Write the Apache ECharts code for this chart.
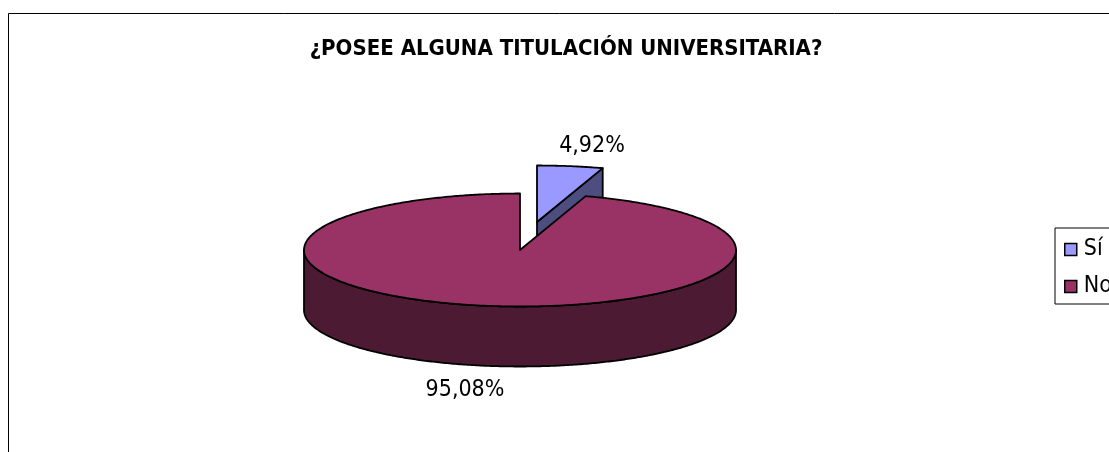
<!DOCTYPE html>
<html>
<head>
<meta charset="utf-8">
<script src="https://cdn.jsdelivr.net/npm/echarts@6/dist/echarts.min.js"></script>
<style>
html, body { margin: 0; padding: 0; background: #fff; }
#main { width: 1109px; height: 452px; }
</style>
</head>
<body>
<div id="main"></div>
<script>
const chartTitle = '¿POSEE ALGUNA TITULACIÓN UNIVERSITARIA?'
const categories = ['Sí', 'No']
const shares = [4.92, 95.08]
const topColors = ['#9999ff', '#993366']
const sideColors = ['#4d4d80', '#4d1a33']

const labelFont = '23px "DejaVu Sans Condensed", "Noto Sans", sans-serif'
const line = { stroke: '#000', lineWidth: 1.8, lineJoin: 'round' }
// pie ellipse in pixels
const cx = 520, cy = 250, rx = 216, ry = 56.5, depth = 60
const explode = [17, -28]
const labelPos = [[592, 146], [465, 390]]

const total = shares.reduce((a, b) => a + b, 0)
const rim = (t, ox, oy) => [ox + rx * Math.sin(t), oy - ry * Math.cos(t)]
const arc = (from, to, ox, oy) => {
    let pts = []
    let n = Math.ceil(Math.abs(to - from) / 0.01)
    for (let i = 0; i <= n; i++) {
        pts.push(rim(from + (to - from) * i / n, ox, oy))
    }
    return pts
}
const poly = (points, fill) => ({ type: 'polygon', shape: { points }, style: { fill, ...line } })
const fmt = v => v.toFixed(2).replace('.', ',') + '%'

// slices start at 12 o'clock and go clockwise
const renderSlice = (params, api) => {
    let idx = params.seriesIndex
    let before = shares.slice(0, idx).reduce((a, b) => a + b, 0)
    let from = before / total * Math.PI * 2
    let to = from + api.value(0) / total * Math.PI * 2
    let ox = cx + (idx === 0 ? explode[0] : 0)
    let oy = cy + (idx === 0 ? explode[1] : 0)
    let children = []
    if (idx === 0) {
        // cut face of the pulled out slice, the rest of it is hidden by the big one
        let e = rim(to, ox, oy)
        children.push(poly([[ox, oy], e, [e[0], e[1] + depth], [ox, oy + depth]], sideColors[idx]))
    } else {
        // front wall, only the lower half of the rim shows
        let front = arc(Math.PI / 2, Math.PI * 1.5, ox, oy)
        let bottom = front.map(p => [p[0], p[1] + depth]).reverse()
        children.push(poly(front.concat(bottom), sideColors[idx]))
    }
    children.push(poly([[ox, oy]].concat(arc(from, to, ox, oy)), topColors[idx]))
    children.push({
        type: 'text',
        style: {
            text: fmt(api.value(0)),
            x: labelPos[idx][0],
            y: labelPos[idx][1],
            font: labelFont,
            fill: '#000',
            align: 'center',
            verticalAlign: 'middle'
        }
    })
    return { type: 'group', children }
}

const myChart = echarts.init(document.getElementById('main'), null, { renderer: 'canvas' })
const option = {
    animation: false,
    backgroundColor: '#fff',
    title: {
        text: chartTitle,
        left: 561,
        top: 33,
        textAlign: 'center',
        textStyle: { fontFamily: '"DejaVu Sans Condensed", "Liberation Sans", sans-serif', fontWeight: 'bold', fontSize: 22, color: '#000' }
    },
    legend: {
        orient: 'vertical',
        left: 1055,
        top: 228,
        padding: [10, 40, 6, 9],
        itemWidth: 12,
        itemHeight: 12,
        itemGap: 14,
        borderColor: '#000',
        borderWidth: 1,
        textStyle: { fontFamily: '"DejaVu Sans Condensed", "Noto Sans", sans-serif', fontSize: 23, color: '#000', padding: [0, 0, 0, 2] },
        data: categories.map((name, i) => ({
            name,
            icon: 'rect',
            itemStyle: { color: topColors[i], borderColor: '#000', borderWidth: 1.5 }
        }))
    },
    graphic: [{
        type: 'rect',
        shape: { x: 8.5, y: 13.5, width: 1300, height: 700 },
        style: { fill: 'none', stroke: '#000', lineWidth: 1 },
        silent: true
    }],
    series: categories.map((name, i) => ({
        name,
        type: 'custom',
        coordinateSystem: 'none',
        silent: true,
        itemStyle: { color: topColors[i] },
        renderItem: renderSlice,
        data: [[shares[i]]]
    }))
}
myChart.setOption(option)
</script>
</body>
</html>
